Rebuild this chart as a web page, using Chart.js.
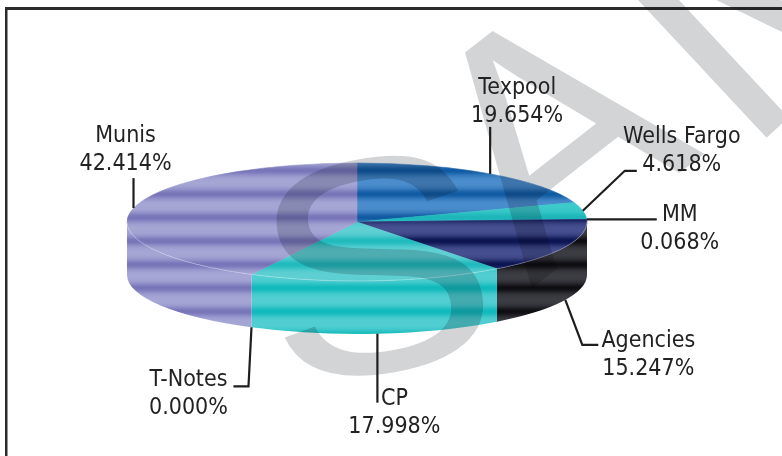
<!DOCTYPE html>
<html>
<head>
<meta charset="utf-8">
<script src="https://cdn.jsdelivr.net/npm/chart.js@4.4.1/dist/chart.umd.min.js"></script>
<style>
  html, body { margin: 0; padding: 0; background: #fff; overflow: hidden; }
  canvas { display: block; }
</style>
</head>
<body>
<canvas id="c" width="782" height="456"></canvas>
<script>
// Portfolio mix (percent of total), clockwise from twelve o'clock
const categories = ['Texpool', 'Wells Fargo', 'MM', 'Agencies', 'CP', 'T-Notes', 'Munis'];
const shares = [19.654, 4.618, 0.068, 15.247, 17.998, 0.000, 42.414];

// Face colours as [light, dark] stripe pairs
const topColors = [
  ['#4b8dcd', '#0f5aa2'],
  ['#3ccaca', '#1cb6b9'],
  ['#6aa0d8', '#3f70b8'],
  ['#465090', '#0b1350'],
  ['#5fd0d3', '#1fbabd'],
  ['#c8c8e6', '#a0a0d0'],
  ['#a6a6d5', '#7774b8']
];
const sideColors = [
  ['#4b8dcd', '#0f5aa2'],
  ['#3ccaca', '#1cb6b9'],
  ['#6aa0d8', '#3f70b8'],
  ['#3c3c43', '#0d0d12'],
  ['#52ced1', '#0fb9bc'],
  ['#c8c8e6', '#a0a0d0'],
  ['#a6a6d5', '#7774b8']
];

// Leader line bends (relative steps) and label anchors (relative to leader end)
const leaderSteps = [
  [[0, -47]],
  [[42, -40], [12, 0]],
  [[70, 0]],
  [[17, 45], [16, 0]],
  [[0, 69]],
  [[-3, 59], [-15, 0]],
  [[0, -30]]
];
const labelAnchors = [
  [27, -33], [45, -28], [23, 2], [50, 2], [17, 2], [-45, 0], [-8, -36]
];

function hexToRgb(h) {
  const n = parseInt(h.slice(1), 16);
  return [(n >> 16) & 255, (n >> 8) & 255, n & 255];
}

// Vertical gradient with soft horizontal banding
function stripeGradient(ctx, y0, y1, light, dark) {
  const g = ctx.createLinearGradient(0, y0, 0, y1);
  const L = hexToRgb(light), D = hexToRgb(dark);
  const period = 23.5, first = y0 + 7.5, sigma = 3.6;
  for (let y = y0; y <= y1 + 0.01; y += 1.5) {
    let d = (((y - first) % period) + period) % period;
    d = Math.min(d, period - d);
    const w = Math.exp(-d * d / (2 * sigma * sigma));
    const c = L.map((v, i) => Math.round(v + (D[i] - v) * w));
    g.addColorStop(Math.min(1, (y - y0) / (y1 - y0)), 'rgb(' + c.join(',') + ')');
  }
  return g;
}

function geometry(arc) {
  const p = arc.getProps(['x', 'y', 'outerRadius'], true);
  const rx = p.outerRadius * 1.036;
  return { cx: p.x, cy: p.y, rx: rx, ry: rx * 0.2565, depth: rx * 0.23 };
}

// Grey "SAMPLE" stamp, painted once and laid over the chart
function stampLayer(w, h) {
  const c = document.createElement('canvas');
  c.width = w; c.height = h;
  const s = c.getContext('2d');
  s.fillStyle = '#d3d4d6';
  s.textAlign = 'center';
  s.textBaseline = 'alphabetic';
  const letter = (ch, font, x, y, size, rot, sx, dy) => {
    s.save();
    s.translate(x, y);
    s.rotate(rot * Math.PI / 180);
    s.scale(sx, 1);
    s.font = size + 'px ' + font;
    s.fillText(ch, 0, dy * size);
    s.restore();
  };
  letter('S', '"Liberation Sans", Arial, sans-serif', 374, 262, 305, -10, 1.15, 0.358);
  letter('A', '"Liberation Sans", Arial, sans-serif', 618, 221, 330, -38, 1, 0);
  s.save();
  s.translate(745, 158);
  s.rotate(-43 * Math.PI / 180);
  s.font = '360px "Liberation Sans", Arial, sans-serif';
  s.textAlign = 'left';
  s.fillText('MPLE', 0, 0);
  s.restore();
  return c;
}

// Draws the pie as a tilted disc with a visible front wall
const pie3d = {
  id: 'pie3d',
  beforeDatasetsDraw(chart) {
    const ctx = chart.ctx;
    const arcs = chart.getDatasetMeta(0).data;
    const g = geometry(arcs[0]);
    const yTop = g.cy - g.ry, yBot = g.cy + g.ry + g.depth;
    ctx.save();
    arcs.forEach((arc, i) => {
      const p = arc.getProps(['startAngle', 'endAngle'], true);
      const a1 = Math.max(p.startAngle, 0), a2 = Math.min(p.endAngle, Math.PI);
      if (a2 - a1 < 1e-6) return;
      ctx.beginPath();
      ctx.ellipse(g.cx, g.cy, g.rx, g.ry, 0, a1, a2, false);
      ctx.ellipse(g.cx, g.cy + g.depth, g.rx, g.ry, 0, a2, a1, true);
      ctx.closePath();
      ctx.fillStyle = stripeGradient(ctx, yTop, yBot, sideColors[i][0], sideColors[i][1]);
      ctx.fill();
    });
    arcs.forEach((arc, i) => {
      const p = arc.getProps(['startAngle', 'endAngle'], true);
      if (p.endAngle - p.startAngle < 1e-6) return;
      ctx.beginPath();
      ctx.moveTo(g.cx, g.cy);
      ctx.ellipse(g.cx, g.cy, g.rx, g.ry, 0, p.startAngle, p.endAngle, false);
      ctx.closePath();
      const fill = stripeGradient(ctx, yTop, yBot, topColors[i][0], topColors[i][1]);
      ctx.fillStyle = fill;
      ctx.fill();
      ctx.strokeStyle = fill;
      ctx.lineWidth = 0.6;
      ctx.stroke();
    });
    // faint rim along the front of the top face
    ctx.beginPath();
    ctx.ellipse(g.cx, g.cy, g.rx, g.ry, 0, 0, Math.PI, false);
    ctx.strokeStyle = 'rgba(255,255,255,0.28)';
    ctx.lineWidth = 1;
    ctx.stroke();
    ctx.restore();
    return false;
  },
  afterDraw(chart) {
    const ctx = chart.ctx;
    const arcs = chart.getDatasetMeta(0).data;
    const g = geometry(arcs[0]);
    ctx.save();

    // frame
    ctx.fillStyle = '#2b2b2b';
    ctx.fillRect(5, 7, 777, 3);
    ctx.fillRect(5, 7, 2.5, 449);

    // stamp
    ctx.globalCompositeOperation = 'multiply';
    ctx.drawImage(stampLayer(chart.width, chart.height), 0, 0);
    ctx.globalCompositeOperation = 'source-over';

    // leader lines and labels
    ctx.strokeStyle = '#1e1e1e';
    ctx.lineWidth = 2.2;
    ctx.fillStyle = '#222';
    ctx.font = '23px "DejaVu Sans", sans-serif';
    ctx.textAlign = 'center';
    ctx.textBaseline = 'alphabetic';
    arcs.forEach((arc, i) => {
      const p = arc.getProps(['startAngle', 'endAngle'], true);
      const m = (p.startAngle + p.endAngle) / 2;
      let x = g.cx + g.rx * Math.cos(m);
      let y = g.cy + g.ry * Math.sin(m) + (Math.sin(m) > 0 ? g.depth : 0);
      ctx.beginPath();
      ctx.moveTo(x, y);
      leaderSteps[i].forEach(s => { x += s[0]; y += s[1]; ctx.lineTo(x, y); });
      ctx.stroke();
      const tx = x + labelAnchors[i][0], ty = y + labelAnchors[i][1];
      const lines = [categories[i], shares[i].toFixed(3) + '%'];
      lines.forEach((t, k) => {
        ctx.save();
        ctx.translate(tx, ty + k * 28);
        ctx.scale(0.9, 1);
        ctx.fillText(t, 0, 0);
        ctx.restore();
      });
    });
    ctx.restore();
  }
};

new Chart(document.getElementById('c'), {
  type: 'pie',
  data: {
    labels: categories,
    datasets: [{
      data: shares,
      backgroundColor: topColors.map(c => c[0]),
      borderWidth: 0
    }]
  },
  options: {
    responsive: false,
    animation: false,
    devicePixelRatio: 1,
    layout: { padding: { left: 135, right: 203, top: 0, bottom: 12 } },
    plugins: { legend: { display: false }, tooltip: { enabled: false } },
    events: []
  },
  plugins: [pie3d]
});
</script>
</body>
</html>
